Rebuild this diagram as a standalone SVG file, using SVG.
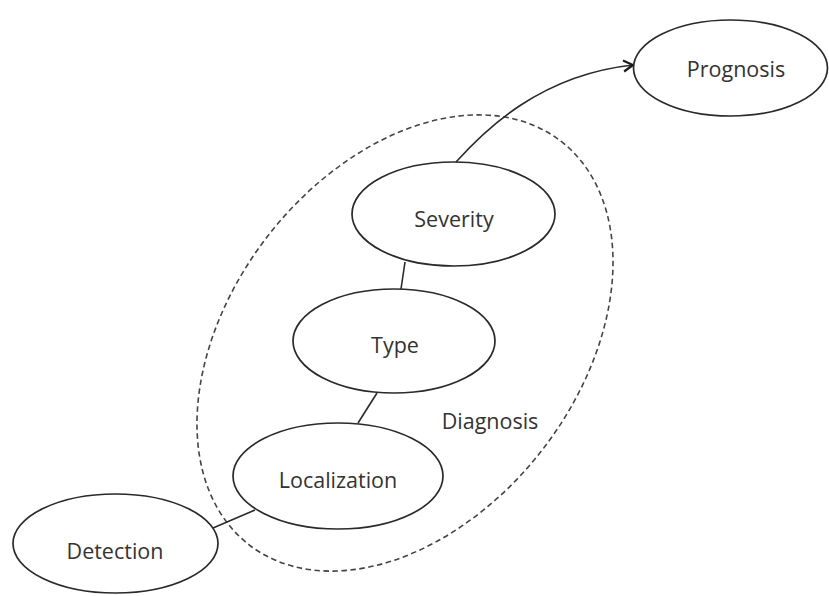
<svg xmlns="http://www.w3.org/2000/svg" width="829" height="596" viewBox="0 0 829 596">
  <defs>
    <style>
      .node ellipse { fill: #ffffff; stroke: #2a2a2a; stroke-width: 1.7; }
      .node text, .label { font-family: "Open Sans", "Liberation Sans", sans-serif; font-size: 21.5px; fill: #333333; text-anchor: middle; }
      .edge { fill: none; stroke: #2a2a2a; stroke-width: 1.6; }
      .group { fill: none; stroke: #444444; stroke-width: 1.6; stroke-dasharray: 5.5 3.5; }
    </style>
    <marker id="open-arrow" viewBox="0 0 14 14" refX="12.5" refY="7" markerWidth="14" markerHeight="14" markerUnits="userSpaceOnUse" orient="auto">
      <path d="M3,1.5 L12.5,7 L3,12.5" fill="none" stroke="#1a1a1a" stroke-width="2.3" stroke-linejoin="miter"/>
    </marker>
  </defs>

  <rect width="829" height="596" fill="#ffffff"/>

  <!-- Diagnosis boundary -->
  <g id="diagnosis-group">
    <ellipse class="group" cx="405" cy="343" rx="255" ry="174" transform="rotate(-52.3 405 343)"/>
    <text class="label" x="490" y="429">Diagnosis</text>
  </g>

  <!-- Connectors -->
  <g id="connectors">
    <path class="edge" d="M456,162 C485,130 540,75 633,65" marker-end="url(#open-arrow)"/>
    <line class="edge" x1="405" y1="262" x2="401" y2="289"/>
    <line class="edge" x1="377" y1="393" x2="358" y2="423"/>
    <line class="edge" x1="255" y1="510" x2="213" y2="528"/>
  </g>

  <!-- Nodes -->
  <g id="prognosis" class="node">
    <ellipse cx="730.5" cy="68" rx="97" ry="48"/>
    <text x="736" y="77">Prognosis</text>
  </g>
  <g id="severity" class="node">
    <ellipse cx="453.5" cy="214" rx="101.5" ry="52"/>
    <text x="454" y="227">Severity</text>
  </g>
  <g id="type" class="node">
    <ellipse cx="394" cy="341" rx="101" ry="52"/>
    <text x="395" y="353">Type</text>
  </g>
  <g id="localization" class="node">
    <ellipse cx="338" cy="476" rx="105" ry="53"/>
    <text x="338" y="488">Localization</text>
  </g>
  <g id="detection" class="node">
    <ellipse cx="115.5" cy="543.5" rx="102.5" ry="49.5"/>
    <text x="115" y="559">Detection</text>
  </g>
</svg>
